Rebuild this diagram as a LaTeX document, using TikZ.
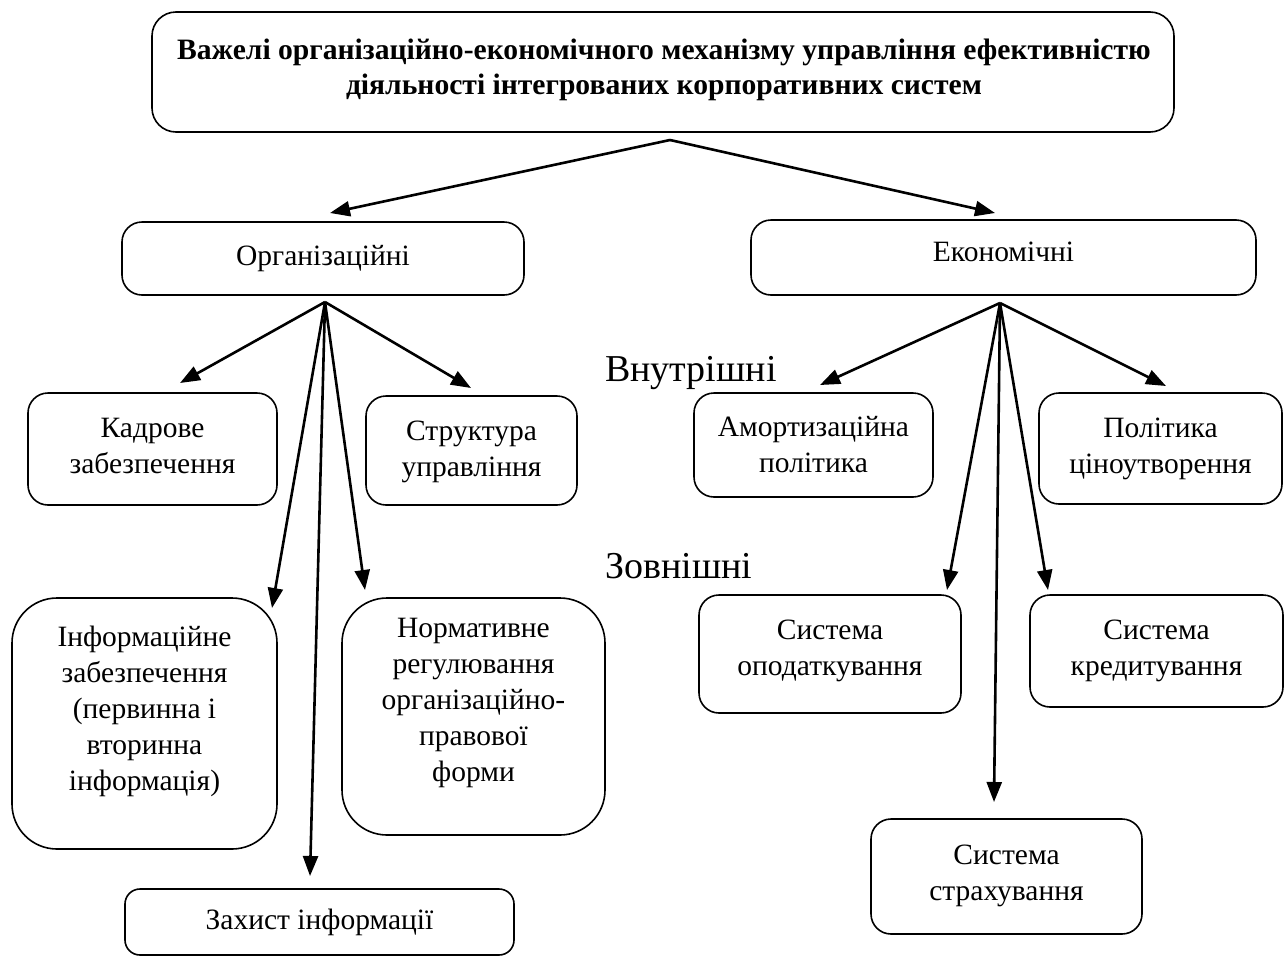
\documentclass[tikz,border=0pt]{standalone}
\usepackage{fontspec}
\setmainfont{Liberation Serif}
\usetikzlibrary{arrows.meta,calc}
\begin{document}
\begin{tikzpicture}[x=1pt,y=-1pt,
  box/.style={draw,line width=1.6pt,rounded corners=20pt,align=center,
    font=\fontsize{29.5}{36}\selectfont,inner sep=0pt},
  txt/.style={align=center,font=\fontsize{29.5}{36}\selectfont,inner sep=0pt},
  arr/.style={line width=2.6pt,-{Triangle[length=20pt,width=15pt]}},
  lbl/.style={font=\fontsize{38}{40}\selectfont,anchor=west,inner sep=0pt}]
\useasboundingbox (0,0) rectangle (1287,956);
% boxes
\node[box,rounded corners=24pt,minimum width=1022pt,minimum height=120pt] (title) at (663,72) {};
\node[txt,font=\fontsize{29.6}{35}\selectfont\bfseries] (title-t) at (664,70)
  {Важелі організаційно-економічного механізму управління ефективністю\\
   діяльності інтегрованих корпоративних систем};
\node[box,minimum width=402pt,minimum height=73pt] (org) at (323,258.5) {Організаційні};
\node[box,minimum width=505pt,minimum height=75pt,text depth=12pt] (eko) at (1003.5,257.5) {Економічні};
\node[box,minimum width=249pt,minimum height=112pt] (kadr) at (152.5,449) {};
\node[txt] (kadr-t) at (152.5,446) {Кадрове\\забезпечення};
\node[box,minimum width=211pt,minimum height=109pt] (struk) at (471.5,450.5) {};
\node[txt] (struk-t) at (471.5,451.5) {Структура\\управління};
\node[box,minimum width=239pt,minimum height=104pt] (amor) at (813.5,445) {Амортизаційна\\політика};
\node[box,minimum width=243pt,minimum height=111pt] (polit) at (1160.5,448.5) {Політика\\ціноутворення};
\node[box,rounded corners=45pt,minimum width=265pt,minimum height=251pt] (info) at (144.5,723.5) {};
\node[txt] (info-t) at (144.5,711) {Інформаційне\\забезпечення\\(первинна і\\вторинна\\інформація)};
\node[box,rounded corners=45pt,minimum width=263pt,minimum height=237pt] (norm) at (473.5,716.5) {};
\node[txt] (norm-t) at (473.5,703) {Нормативне\\регулювання\\організаційно-\\правової\\форми};
\node[box,rounded corners=15pt,minimum width=389pt,minimum height=66pt] (zah) at (319.5,922) {Захист інформації};
\node[box,minimum width=262pt,minimum height=118pt] (opod) at (830,654) {};
\node[txt] (opod-t) at (830,651) {Система\\оподаткування};
\node[box,minimum width=253pt,minimum height=112pt] (kred) at (1156.5,651) {};
\node[txt] (kred-t) at (1156.5,651) {Система\\кредитування};
\node[box,minimum width=271pt,minimum height=115pt] (strakh) at (1006.5,876.5) {};
\node[txt] (strakh-t) at (1006.5,876) {Система\\страхування};
% labels
\node[lbl] (vnut) at (605,373) {Внутрішні};
\node[lbl] (zovn) at (605,566) {Зовнішні};
% connector points
\coordinate (th) at (670,140);
\coordinate (oh) at (325,302);
\coordinate (eh) at (1000,303);
\coordinate (t-org) at (330,213);
\coordinate (t-eko) at (995,213);
\coordinate (t-kadr) at (180,383);
\coordinate (t-struk) at (471,388);
\coordinate (t-info) at (272,608);
\coordinate (t-norm) at (365,590);
\coordinate (t-zah) at (310,876);
\coordinate (t-amor) at (820,385);
\coordinate (t-polit) at (1166,386);
\coordinate (t-opod) at (947,590);
\coordinate (t-kred) at (1048,590);
\coordinate (t-strakh) at (994,802);
% connectors
\draw[arr] (th) -- (t-org);
\draw[arr] (th) -- (t-eko);
\draw[arr] (oh) -- (t-kadr);
\draw[arr] (oh) -- (t-struk);
\draw[arr] (oh) -- (t-info);
\draw[arr] (oh) -- (t-norm);
\draw[arr] (oh) -- (t-zah);
\draw[arr] (eh) -- (t-amor);
\draw[arr] (eh) -- (t-polit);
\draw[arr] (eh) -- (t-opod);
\draw[arr] (eh) -- (t-kred);
\draw[arr] (eh) -- (t-strakh);
\end{tikzpicture}
\end{document}
